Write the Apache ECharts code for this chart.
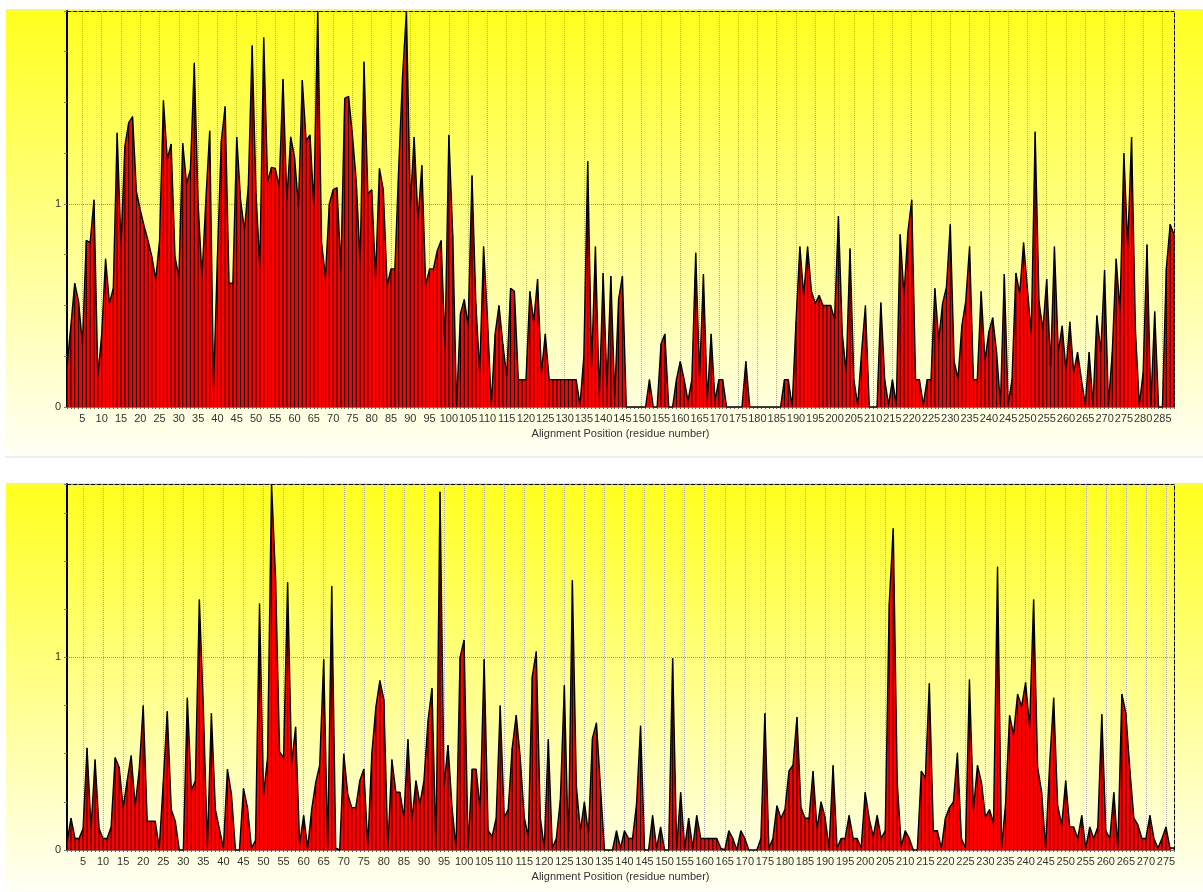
<!DOCTYPE html>
<html>
<head>
<meta charset="utf-8">
<script src="https://cdn.jsdelivr.net/npm/echarts@6/dist/echarts.min.js"></script>
<style>
html, body { margin: 0; padding: 0; background: #fff; }
#chart { width: 1203px; height: 892px; }
</style>
</head>
<body>
<div id="chart"></div>
<script>
"use strict";
// top panel, 288 alignment positions
var topValues = [
  0.2,0.40,0.61,0.52,0.31,0.82,0.81,1.02,0.15,0.36,
  0.73,0.51,0.585,1.35,0.79,1.285,1.40,1.43,1.06,0.97,
  0.89,0.82,0.74,0.63,0.82,1.51,1.22,1.295,0.74,0.64,
  1.30,1.10,1.17,1.695,1.0,0.64,1.02,1.36,0.1,0.74,
  1.31,1.48,0.61,0.61,1.33,1.02,0.87,1.085,1.78,1.05,
  0.69,1.82,1.11,1.18,1.175,1.085,1.615,1.02,1.33,1.23,
  0.99,1.61,1.31,1.34,0.99,1.95,0.81,0.64,1.0,1.07,
  1.08,0.68,1.52,1.53,1.34,1.11,0.71,1.70,1.05,1.07,
  0.64,1.175,1.07,0.60,0.68,0.68,1.18,1.63,1.95,0.99,
  1.33,0.92,1.19,0.60,0.68,0.68,0.77,0.82,0.3,1.34,
  0.85,0,0.46,0.53,0.40,1.14,0.51,0.17,0.79,0.44,
  0.01,0.36,0.50,0.31,0.15,0.585,0.57,0.135,0.135,0.135,
  0.57,0.42,0.63,0.17,0.36,0.135,0.135,0.135,0.135,0.135,
  0.135,0.135,0.135,0.01,0.25,1.21,0.2,0.79,0.05,0.66,
  0.1,0.645,0.05,0.53,0.645,0,0,0,0,0,
  0,0.135,0,0,0.31,0.36,0,0,0.135,0.225,
  0.135,0.03,0.135,0.76,0.15,0.655,0.03,0.36,0.03,0.135,
  0.135,0,0,0,0,0,0.225,0,0,0,
  0,0,0,0,0,0,0.135,0.135,0,0.42,
  0.79,0.55,0.79,0.57,0.51,0.55,0.50,0.50,0.50,0.43,
  0.94,0.36,0.17,0.78,0.135,0.01,0.27,0.50,0,0,
  0,0.515,0.135,0.01,0.135,0.01,0.85,0.55,0.86,1.02,
  0.135,0.135,0.01,0.135,0.135,0.585,0.33,0.51,0.59,0.90,
  0.225,0.14,0.40,0.52,0.79,0.135,0.135,0.57,0.23,0.37,
  0.44,0.27,0.01,0.655,0.01,0.135,0.66,0.56,0.81,0.58,
  0.36,1.355,0.52,0.38,0.63,0.20,0.79,0.27,0.40,0.18,
  0.42,0.17,0.27,0.135,0.01,0.27,0.01,0.45,0.27,0.675,
  0.01,0.27,0.73,0.47,1.25,0.79,1.33,0.38,0.01,0.17,
  0.80,0.01,0.47,0,0,0.68,0.90,0.85
];
// bottom panel, 277 alignment positions
var bottomValues = [
  0.04,0.165,0.06,0.06,0.11,0.53,0.11,0.47,0.11,0.06,
  0.06,0.12,0.48,0.43,0.22,0.36,0.49,0.23,0.415,0.75,
  0.15,0.15,0.15,0.01,0.35,0.72,0.21,0.15,0,0,
  0.79,0.31,0.36,1.30,0.735,0.02,0.71,0.21,0.11,0.01,
  0.42,0.29,0,0,0.32,0.22,0.01,0.05,1.28,0.285,
  0.48,1.90,1.41,0.51,0.48,1.39,0.45,0.64,0.03,0.18,
  0.01,0.21,0.35,0.44,0.99,0.01,1.37,0.01,0,0.50,
  0.29,0.22,0.22,0.36,0.42,0.02,0.50,0.74,0.88,0.78,
  0.01,0.47,0.30,0.30,0.17,0.575,0.155,0.36,0.24,0.36,
  0.67,0.84,0.01,1.86,0.33,0.545,0.22,0.01,1.0,1.09,
  0.01,0.42,0.42,0.21,0.99,0.10,0.07,0.165,0.75,0.17,
  0.21,0.53,0.70,0.48,0.17,0.07,0.90,1.03,0.17,0.01,
  0.575,0.01,0.06,0.26,0.855,0.01,1.40,0.33,0.10,0.25,
  0.085,0.58,0.66,0.33,0,0,0,0.10,0.01,0.10,
  0.06,0.06,0.24,0.645,0,0,0.18,0.01,0.12,0,
  0,0.995,0.01,0.30,0.01,0.165,0.01,0.18,0.06,0.06,
  0.06,0.06,0.06,0.01,0,0.10,0.06,0,0.10,0.06,
  0,0,0,0.06,0.71,0.01,0.06,0.23,0.165,0.21,
  0.41,0.44,0.69,0.22,0.165,0.165,0.41,0.11,0.25,0.17,
  0.01,0.44,0.01,0.06,0.06,0.18,0.06,0.06,0.01,0.30,
  0.165,0.07,0.18,0.06,0.10,1.28,1.67,0.35,0.02,0.10,
  0.06,0,0,0.41,0.375,0.865,0.10,0.10,0.01,0.165,
  0.22,0.25,0.505,0.06,0.01,0.885,0.21,0.44,0.35,0.17,
  0.21,0.14,1.47,0.01,0.24,0.70,0.60,0.81,0.745,0.87,
  0.64,1.30,0.43,0.30,0.01,0.45,0.79,0.23,0.13,0.36,
  0.12,0.12,0.06,0.18,0.01,0.12,0.06,0.12,0.705,0.10,
  0.06,0.30,0.01,0.81,0.71,0.415,0.165,0.13,0.06,0.06,
  0.18,0.06,0.01,0.06,0.12,0.01,0.01
];
var yLabels = ['0', '1'];
var axisTitle = 'Alignment Position (residue number)';

function positions(n) {
  var a = [];
  for (var i = 1; i <= n; i++) a.push(String(i));
  return a;
}
var topCats = positions(topValues.length);
var bottomCats = positions(bottomValues.length);

var font = 'Liberation Sans, Arial, sans-serif';
var every5 = function (idx, val) { return (+val) % 5 === 0; };

function xAxisFor(grid, cats) {
  return {
    type: 'category', gridIndex: grid, data: cats, boundaryGap: false,
    name: axisTitle, nameLocation: 'middle', nameGap: 21,
    nameTextStyle: { color: '#333', fontSize: 11, fontFamily: font },
    axisLine: { onZero: false, lineStyle: { color: '#777', width: 1 } },
    axisTick: { show: true, interval: 0, length: 2, lineStyle: { color: '#666' } },
    axisLabel: { interval: every5, margin: 6, color: '#333', fontSize: 11, fontFamily: font },
    splitLine: { show: true, interval: every5, lineStyle: { color: '#aaa', type: 'dotted', width: 1 } }
  };
}
function topBorder(grid) {
  return {
    type: 'value', gridIndex: grid, position: 'top',
    axisLine: { show: true, onZero: false, lineStyle: { color: '#000', type: 'dashed', width: 1 } },
    axisTick: { show: false }, axisLabel: { show: false }, splitLine: { show: false }
  };
}
function yAxisFor(grid, max) {
  return {
    type: 'value', gridIndex: grid, min: 0, max: max, interval: 0.25,
    axisLine: { show: true, onZero: false, lineStyle: { color: '#000', width: 2 } },
    axisTick: { show: true, length: 3, lineStyle: { color: '#777' } },
    axisLabel: {
      margin: 6, color: '#333', fontSize: 11, fontFamily: font,
      formatter: function (v) {
        if (Math.abs(v) < 1e-6) return yLabels[0];
        if (Math.abs(v - 1) < 1e-6) return yLabels[1];
        return '';
      }
    },
    splitLine: {
      show: true,
      lineStyle: { type: 'dotted', width: 1,
        color: ['rgba(0,0,0,0)', 'rgba(0,0,0,0)', 'rgba(0,0,0,0)', 'rgba(0,0,0,0)', '#999',
                'rgba(0,0,0,0)', 'rgba(0,0,0,0)', 'rgba(0,0,0,0)', 'rgba(0,0,0,0)', 'rgba(0,0,0,0)'] }
    }
  };
}
function rightBorder(grid) {
  return {
    type: 'value', gridIndex: grid, position: 'right',
    axisLine: { show: true, onZero: false, lineStyle: { color: '#000', type: 'dashed', width: 1 } },
    axisTick: { show: false }, axisLabel: { show: false }, splitLine: { show: false }
  };
}
function areaSeries(ax, vals) {
  return {
    type: 'line', xAxisIndex: ax, yAxisIndex: ax * 2, data: vals,
    symbol: 'none', smooth: false, z: 2,
    lineStyle: { color: '#000', width: 1.4 },
    areaStyle: { color: '#ff0000', opacity: 1 }
  };
}
function dropSeries(ax, vals) {
  return {
    type: 'bar', xAxisIndex: ax, yAxisIndex: ax * 2, data: vals,
    barWidth: 1, z: 3, itemStyle: { color: '#000' }
  };
}
function bgGradient() {
  return new echarts.graphic.LinearGradient(0, 0, 0, 1, [
    { offset: 0, color: '#ffff1e' },
    { offset: 1, color: '#fffff6' }
  ]);
}

var myChart = echarts.init(document.getElementById('chart'), null, { renderer: 'canvas' });
var option = {
  animation: false,
  graphic: [
    { type: 'rect', z: -10, shape: { x: 6, y: 9, width: 1197, height: 447 }, style: { fill: bgGradient() } },
    { type: 'line', z: -10, shape: { x1: 5, y1: 457, x2: 1203, y2: 457 }, style: { stroke: '#ddd', lineWidth: 1 } },
    { type: 'rect', z: -10, shape: { x: 6, y: 483, width: 1197, height: 409 }, style: { fill: bgGradient() } }
  ],
  grid: [
    { left: 67, top: 11, width: 1107, height: 396 },
    { left: 67, top: 484, width: 1107, height: 366 }
  ],
  xAxis: [xAxisFor(0, topCats), xAxisFor(1, bottomCats), topBorder(0), topBorder(1)],
  yAxis: [yAxisFor(0, 1.95), rightBorder(0), yAxisFor(1, 1.9), rightBorder(1)],
  series: [
    areaSeries(0, topValues), dropSeries(0, topValues),
    areaSeries(1, bottomValues), dropSeries(1, bottomValues)
  ]
};
myChart.setOption(option);
</script>
</body>
</html>
